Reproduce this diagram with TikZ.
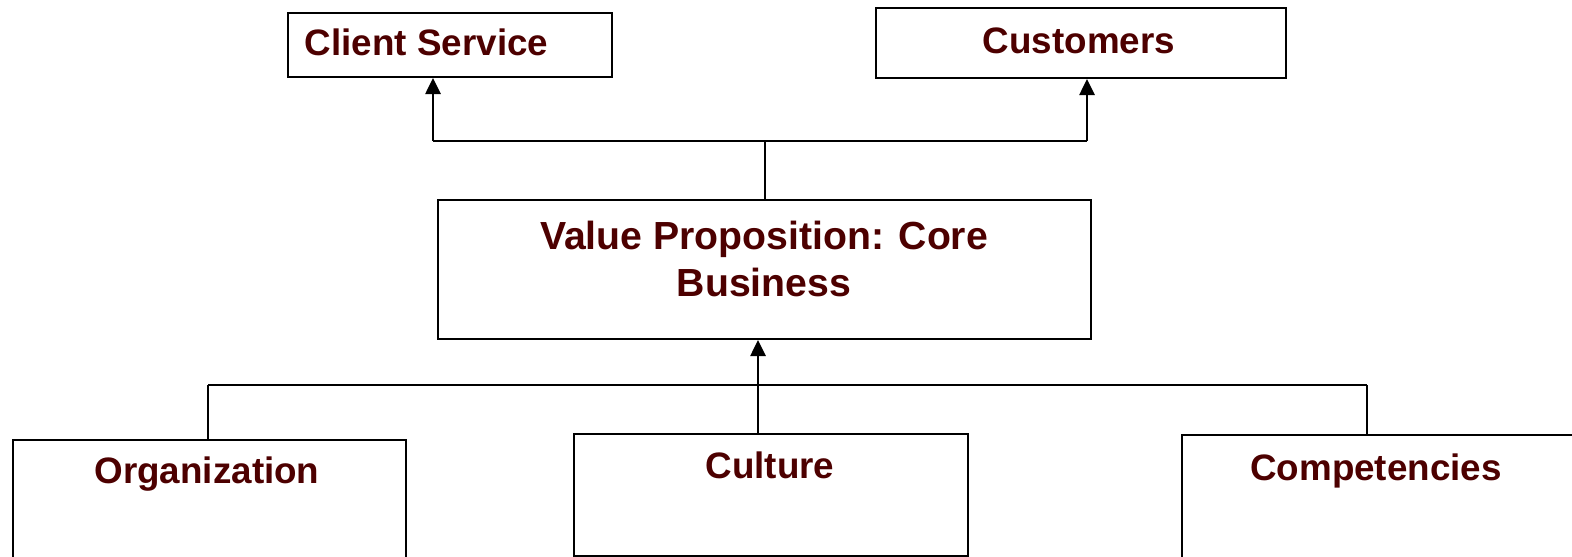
\documentclass[tikz,border=0pt]{standalone}
\usepackage{fontspec}
\setmainfont{Liberation Sans}
\usetikzlibrary{arrows.meta}
\definecolor{labelred}{RGB}{77,0,0}
\begin{document}
\begin{tikzpicture}[x=1pt,y=-1pt,
  box/.style={draw=black, line width=2pt, anchor=north west, inner sep=0pt, fill=white},
  lbl/.style={anchor=base, inner sep=0pt, text=labelred, font=\bfseries\fontsize{36.8}{44}\selectfont},
  biglbl/.style={anchor=base, inner sep=0pt, text=labelred, font=\bfseries\fontsize{39.2}{48}\selectfont},
  conn/.style={draw=black, line width=2.6pt},
  arr/.style={conn, -{Triangle[length=16pt,width=15pt]}}]
\clip (0,0) rectangle (1572,557);
\fill[white] (0,0) rectangle (1572,557);

% boxes
\node[box, minimum width=324pt, minimum height=64pt] (cs) at (287,12) {};
\node[box, minimum width=410pt, minimum height=70pt] (cu) at (875,7) {};
\node[box, minimum width=653pt, minimum height=139pt] (vp) at (437,199) {};
\node[box, minimum width=393pt, minimum height=160pt] (org) at (12,439) {};
\node[box, minimum width=394pt, minimum height=122pt] (cul) at (573,433) {};
\node[box, minimum width=420pt, minimum height=160pt] (comp) at (1181,434) {};

% labels
\node[lbl] (csl) at (426.5,55) {Client Service};
\node[lbl] (cul1) at (1079,53) {Customers};
\node[biglbl] (vpl1) at (764,249) {Value Proposition: Core};
\node[biglbl] (vpl2) at (764,296) {Business};
\node[lbl] (orgl) at (207,483) {Organization};
\node[lbl] (cull) at (770,478) {Culture};
\node[lbl] (compl) at (1376,480) {Competencies};

% upper connectors
\coordinate (jl) at (433,141);
\coordinate (jr) at (1087,141);
\draw[conn] (jl) -- (jr);
\draw[conn] (vp.north -| 765,0) -- (jl -| 765,0);
\draw[arr] (jl) -- (jl |- cs.south);
\draw[arr] (jr) -- (jr |- cu.south);

% lower connectors
\coordinate (bl) at (208,385);
\coordinate (br) at (1367,385);
\coordinate (bm) at (758,385);
\draw[conn] (bl) -- (br);
\draw[conn] (bl) -- (bl |- org.north);
\draw[conn] (br) -- (br |- comp.north);
\draw[arr] (bm |- cul.north) -- (bm |- vp.south);
\end{tikzpicture}
\end{document}
